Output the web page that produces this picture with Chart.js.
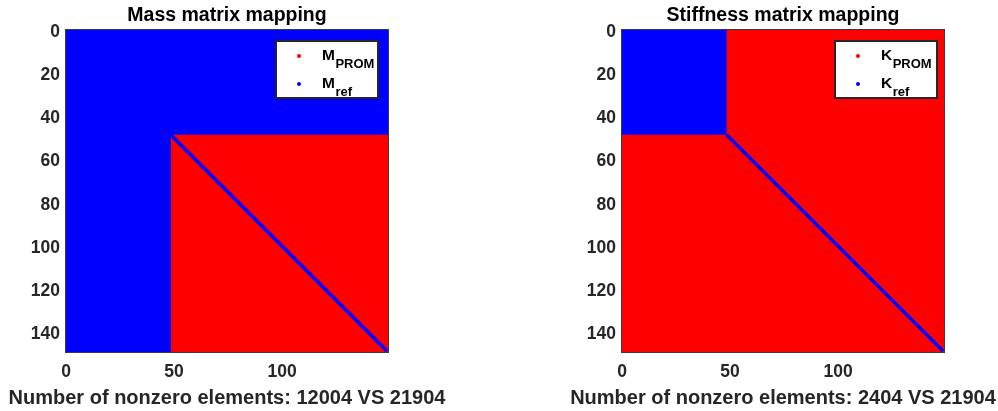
<!DOCTYPE html>
<html>
<head>
<meta charset="utf-8">
<script src="https://cdn.jsdelivr.net/npm/chart.js@4.4.1/dist/chart.umd.min.js"></script>
<style>
  html, body { margin: 0; padding: 0; background: #fff; overflow: hidden; }
  #wrap { position: relative; width: 998px; height: 411px; }
  canvas { position: absolute; top: 0; }
  #massChart { left: 0; }
  #stiffChart { left: 556px; }
</style>
</head>
<body>
<div id="wrap">
  <canvas id="massChart" width="556" height="411"></canvas>
  <canvas id="stiffChart" width="442" height="411"></canvas>
</div>
<script>
// 148 x 148 matrices, axes run one past the last index (spy style)
var axisMax = 149;
var xTickValues = [0, 50, 100];
var yTickValues = [0, 20, 40, 60, 80, 100, 120, 140];

// Region extents in matrix units: [colFrom, colTo, rowFrom, rowTo]
var massBlueRegion = [0, 149, 0, 149];
var massRedRegion = [48.5, 149, 48.5, 149];
var stiffRedRegion = [0, 149, 0, 149];
var stiffBlueRegion = [0, 48.5, 0, 48.5];

// Diagonal kept inside the lower block: first and last index
var diagonalIndex = [49, 148];

// Nonzero counts: [reduced, reference]
var massNonzeros = [12004, 21904];
var stiffNonzeros = [2404, 21904];

var legendSubscripts = ['PROM', 'ref'];
var legendColors = ['#ff0000', '#0000ff'];

var RED = '#ff0000';
var BLUE = '#0000ff';
var FONT = '"Liberation Sans", Arial, Helvetica, sans-serif';
var INK = '#262626';

function regionDataset(r, color, order) {
    return {
        data: [{x: r[0], y: r[2]}, {x: r[1], y: r[2]}],
        showLine: true,
        borderWidth: 0,
        borderColor: 'transparent',
        pointRadius: 0,
        backgroundColor: color,
        fill: {value: r[3]},
        order: order
    };
}

function diagonalDataset(color) {
    return {
        data: [{x: diagonalIndex[0], y: diagonalIndex[0]}, {x: diagonalIndex[1], y: diagonalIndex[1]}],
        showLine: true,
        borderWidth: 3.5,
        borderColor: color,
        borderCapStyle: 'square',
        pointRadius: 0,
        fill: false,
        order: 0
    };
}

// frame, legend with subscripts and the x caption
var spyDecor = {
    id: 'spyDecor',
    afterDraw: function(chart, args, opts) {
        var ctx = chart.ctx;
        var a = chart.chartArea;
        ctx.save();

        ctx.strokeStyle = '#3a3a3a';
        ctx.lineWidth = 1;
        ctx.strokeRect(a.left - 0.5, a.top - 0.5, a.right - a.left + 1, a.bottom - a.top + 1);

        // legend box
        var bw = 102, bh = 57;
        var bx = a.right - opts.legendRight - bw;
        var by = a.top + 11;
        ctx.fillStyle = '#fff';
        ctx.fillRect(bx, by, bw, bh);
        ctx.strokeStyle = INK;
        ctx.lineWidth = 2;
        ctx.strokeRect(bx, by, bw, bh);

        legendSubscripts.forEach(function(sub, i) {
            var rowY = by + 15 + i * 28;
            ctx.fillStyle = legendColors[i];
            ctx.beginPath();
            ctx.arc(bx + 23, rowY, 2, 0, Math.PI * 2);
            ctx.fill();

            ctx.fillStyle = '#000';
            ctx.textBaseline = 'alphabetic';
            ctx.textAlign = 'left';
            ctx.font = 'bold 15.5px ' + FONT;
            var tx = bx + 46;
            ctx.fillText(opts.symbol, tx, rowY + 4);
            var w = ctx.measureText(opts.symbol).width;
            ctx.font = 'bold 13px ' + FONT;
            ctx.fillText(sub, tx + w + 0.5, rowY + 12);
        });

        // x caption
        ctx.fillStyle = INK;
        ctx.font = 'bold 20px ' + FONT;
        ctx.textAlign = 'center';
        ctx.textBaseline = 'middle';
        ctx.fillText('Number of nonzero elements: ' + opts.counts[0] + ' VS ' + opts.counts[1],
            (a.left + a.right) / 2, 398);
        ctx.restore();
    }
};

function makeSpyChart(canvasId, title, datasets, padRight, symbol, counts, legendRight) {
    var ctx = document.getElementById(canvasId).getContext('2d');
    return new Chart(ctx, {
        type: 'scatter',
        data: {datasets: datasets},
        plugins: [spyDecor],
        options: {
            responsive: false,
            animation: false,
            layout: {padding: {left: 0, right: padRight, top: 0, bottom: 0}},
            scales: {
                x: {
                    type: 'linear',
                    min: 0,
                    max: axisMax,
                    afterBuildTicks: function(s) {
                        s.ticks = xTickValues.map(function(v) { return {value: v}; });
                    },
                    afterFit: function(s) { s.height = 59; },
                    grid: {display: false, drawTicks: false},
                    border: {display: false},
                    ticks: {padding: 10, color: INK, font: {family: FONT, size: 17.5, weight: 'bold'}}
                },
                y: {
                    type: 'linear',
                    reverse: true,
                    min: 0,
                    max: axisMax,
                    afterBuildTicks: function(s) {
                        s.ticks = yTickValues.map(function(v) { return {value: v}; });
                    },
                    afterFit: function(s) { s.width = 66; },
                    grid: {display: false, drawTicks: false},
                    border: {display: false},
                    ticks: {padding: 6, labelOffset: 2, color: INK, font: {family: FONT, size: 17.5, weight: 'bold'}}
                }
            },
            plugins: {
                legend: {display: false},
                tooltip: {enabled: false},
                title: {
                    display: true,
                    text: title,
                    fullSize: false,
                    color: '#000',
                    font: {family: FONT, size: 19.5, weight: 'bold'},
                    padding: {top: 4, bottom: 2.6}
                },
                spyDecor: {symbol: symbol, counts: counts, legendRight: legendRight}
            }
        }
    });
}

makeSpyChart('massChart', 'Mass matrix mapping', [
    regionDataset(massBlueRegion, BLUE, 2),
    regionDataset(massRedRegion, RED, 1),
    diagonalDataset(BLUE)
], 168, 'M', massNonzeros, 10);

makeSpyChart('stiffChart', 'Stiffness matrix mapping', [
    regionDataset(stiffRedRegion, RED, 2),
    regionDataset(stiffBlueRegion, BLUE, 1),
    diagonalDataset(BLUE)
], 54, 'K', stiffNonzeros, 7);
</script>
</body>
</html>
